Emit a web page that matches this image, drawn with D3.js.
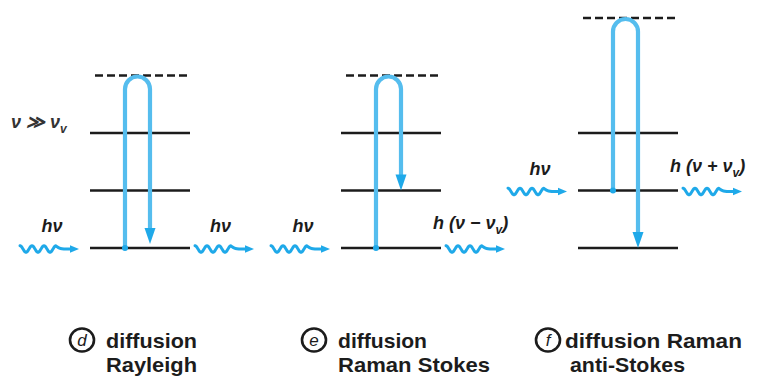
<!DOCTYPE html>
<html>
<head>
<meta charset="utf-8">
<script src="https://cdn.jsdelivr.net/npm/d3@7"></script>
<style>
  html, body { margin: 0; padding: 0; background: #fff; }
  svg { display: block; }
</style>
</head>
<body>
<svg id="chart" width="762" height="376"></svg>
<script>
// ---- data ----
const panels = ["d", "e", "f"];
const levels = [0, 1, 2];              // real vibrational levels
const virtualLevel = [3, 3, 4];        // dashed virtual level per panel
const upFrom = [0, 0, 1];              // absorption start level
const downTo = [0, 1, 0];              // emission end level
const inLabels = ["hν", "hν", "hν"];
const outLabels = [["h (ν − ν", "v", ")"], ["h (ν − ν", "v", ")"], ["h (ν + ν", "v", ")"]];
const captionLine1 = ["diffusion", "diffusion", "diffusion Raman"];
const captionLine2 = ["Rayleigh", "Raman Stokes", "anti-Stokes"];

const svg = d3.select("#chart");
const blue = "#1fa9e9";
const barBlue = "#55bdee";
const ink = "#1c1c1c";

const y = d3.scaleLinear().domain([0, 4]).range([248, 18]);
const x = d3.scaleOrdinal().domain(panels).range([90, 341, 578]);

const g = svg.append("g");

panels.forEach((p, i) => {
  const left = x(p);
  const pg = g.append("g");

  // real levels
  pg.selectAll("line.level").data(levels).join("line")
    .attr("x1", left).attr("x2", left + 100)
    .attr("y1", d => y(d)).attr("y2", d => y(d))
    .attr("stroke", ink).attr("stroke-width", 2.4);

  // virtual level (dashed)
  pg.append("line")
    .attr("x1", left + 5).attr("x2", left + 100)
    .attr("y1", y(virtualLevel[i])).attr("y2", y(virtualLevel[i]))
    .attr("stroke", ink).attr("stroke-width", 2.4)
    .attr("stroke-dasharray", "8,4");

  // transitions
  const ux = left + 35, dx = left + 60, r = 12.5;
  const yTop = y(virtualLevel[i]) + 1;
  const yStart = y(upFrom[i]);
  const yEnd = y(downTo[i]) - (i === 0 ? 4 : 0);
  const head = 16;
  const path = d3.path();
  path.moveTo(ux, yStart);
  path.lineTo(ux, yTop + r);
  path.arc(ux + r, yTop + r, r, Math.PI, 0, false);
  path.lineTo(dx, yEnd - head + 2);
  pg.append("path").attr("d", path.toString())
    .attr("fill", "none").attr("stroke", barBlue).attr("stroke-width", 4.2);
  pg.append("path")
    .attr("d", `M${dx - 5.5},${yEnd - head} L${dx + 5.5},${yEnd - head} L${dx},${yEnd} Z`)
    .attr("fill", blue);
  pg.append("circle").attr("cx", ux).attr("cy", yStart).attr("r", 3).attr("fill", blue);

  // wavy photon arrows
  const wave = (x0, yc) => {
    const pts = [];
    const period = 12, amp = 3.3;
    for (let k = 0; k <= 3 * period; k += 0.5) {
      pts.push([x0 + k, yc - amp * Math.cos((k / period) * 2 * Math.PI)]);
    }
    pts.push([x0 + 3 * period + 3, yc]);
    pts.push([x0 + 3 * period + 15, yc]);
    return pts;
  };
  const lineGen = d3.line().curve(d3.curveBasis);
  const yW = y(upFrom[i]) + 1;
  [[left - 70, yW], [left + 105, yW]].forEach(([x0, yc]) => {
    const pts = wave(x0, yc);
    pg.append("path").attr("d", lineGen(pts))
      .attr("fill", "none").attr("stroke", blue).attr("stroke-width", 3)
      .attr("stroke-linejoin", "round").attr("stroke-linecap", "round");
    const xe = pts[pts.length - 1][0];
    pg.append("path")
      .attr("d", `M${xe - 1},${yc - 3.8} L${xe + 8},${yc} L${xe - 1},${yc + 3.8} Z`)
      .attr("fill", blue);
  });

  // photon labels
  const lblY = y(upFrom[i]) - 16;
  pg.append("text").attr("x", left - 38).attr("y", lblY)
    .attr("text-anchor", "middle")
    .attr("font-family", "Liberation Sans, Arial, sans-serif")
    .attr("font-weight", "bold").attr("font-style", "italic")
    .attr("font-size", 18).attr("fill", ink)
    .text(inLabels[i]);

  const ot = pg.append("text").attr("x", i === 0 ? left + 120 : left + 92).attr("y", lblY - (i === 0 ? 0 : 3))
    .attr("font-family", "Liberation Sans, Arial, sans-serif")
    .attr("font-weight", "bold").attr("font-style", "italic")
    .attr("font-size", 18).attr("fill", ink);
  if (i === 0) {
    ot.text(inLabels[i]);
  } else {
    ot.append("tspan").text(outLabels[i][0]);
    ot.append("tspan").attr("font-size", 12).attr("dy", 5).text(outLabels[i][1]);
    ot.append("tspan").attr("dy", -5).text(outLabels[i][2]);
  }
});

// ν ≫ νv label
const nu = g.append("text").attr("x", 11).attr("y", 128)
  .attr("font-family", "Liberation Sans, Arial, sans-serif")
  .attr("font-weight", "bold").attr("font-style", "italic")
  .attr("font-size", 18).attr("fill", "#333");
nu.append("tspan").text("ν ≫ ν");
nu.append("tspan").attr("font-size", 12).attr("dy", 5).text("v");

// captions
const capX = [106, 338, 565];
const capX2 = [106, 338, 570];
const circX = [82, 314, 548];
const len1 = [91, 89, 177];
const len2 = [91, 152, 115];
panels.forEach((p, i) => {
  const cg = g.append("g");
  cg.append("ellipse").attr("cx", circX[i]).attr("cy", 340).attr("rx", 12).attr("ry", 11.5)
    .attr("fill", "none").attr("stroke", ink).attr("stroke-width", 2.6);
  cg.append("text").attr("x", circX[i]).attr("y", 346)
    .attr("text-anchor", "middle")
    .attr("font-family", "Liberation Sans, Arial, sans-serif")
    .attr("font-style", "italic").attr("font-size", 17).attr("fill", ink)
    .text(p);
  cg.append("text").attr("x", capX[i]).attr("y", 348)
    .attr("font-family", "Liberation Sans, Arial, sans-serif")
    .attr("font-weight", "bold").attr("font-size", 21).attr("fill", ink)
    .attr("textLength", len1[i]).attr("lengthAdjust", "spacingAndGlyphs")
    .text(captionLine1[i]);
  cg.append("text").attr("x", capX2[i]).attr("y", 372)
    .attr("font-family", "Liberation Sans, Arial, sans-serif")
    .attr("font-weight", "bold").attr("font-size", 21).attr("fill", ink)
    .attr("textLength", len2[i]).attr("lengthAdjust", "spacingAndGlyphs")
    .text(captionLine2[i]);
});
</script>
</body>
</html>
